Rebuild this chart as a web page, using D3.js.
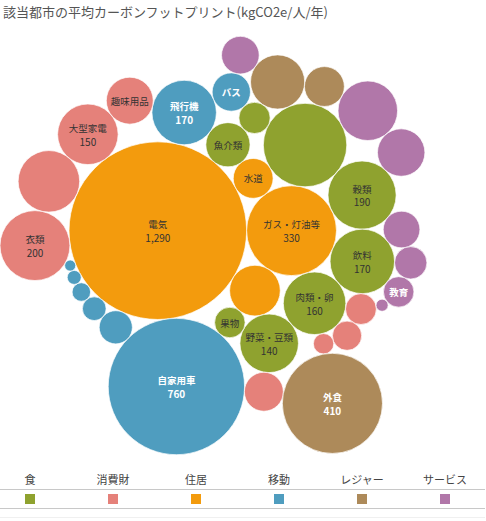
<!DOCTYPE html>
<html>
<head>
<meta charset="utf-8">
<script src="https://cdn.jsdelivr.net/npm/d3@7"></script>
<style>
  body { margin: 0; background: #fff; }
  svg { display: block; font-family: "Noto Sans CJK JP", "Noto Sans", sans-serif; }
</style>
</head>
<body>
<div id="chart"></div>
<script>
/* global d3 */

// legend order of the categories, bubble colour and label colour
var legendCategories = ["食", "消費財", "住居", "移動", "レジャー", "サービス"];
var categoryColors = ["#8fa22f", "#e5817a", "#f39b0d", "#4f9dbf", "#ad8a5a", "#b177a9"];
var labelColors = ["#333", "#333", "#333", "#fff", "#fff", "#fff"];

// items (kgCO2e / person / year); "" = bubble shown without a label
var itemNames = [
    "電気", "ガス・灯油等", "", "水道",
    "", "穀類", "飲料", "肉類・卵", "野菜・豆類", "魚介類", "", "果物",
    "自家用車", "飛行機", "バス", "", "", "", "", "",
    "衣類", "", "大型家電", "趣味用品", "", "", "", "",
    "外食", "", "",
    "", "", "", "", "", "教育", ""
];
var itemCategories = [
    "住居", "住居", "住居", "住居",
    "食", "食", "食", "食", "食", "食", "食", "食",
    "移動", "移動", "移動", "移動", "移動", "移動", "移動", "移動",
    "消費財", "消費財", "消費財", "消費財", "消費財", "消費財", "消費財", "消費財",
    "レジャー", "レジャー", "レジャー",
    "サービス", "サービス", "サービス", "サービス", "サービス", "サービス", "サービス"
];
var itemValues = [
    1290, 330, 105, 65,
    285, 190, 170, 160, 140, 80, 40, 38,
    760, 170, 60, 45, 23, 14, 8, 5,
    200, 155, 150, 90, 62, 39, 35, 17,
    410, 120, 65,
    145, 92, 58, 55, 43, 38, 6
];

var width = 486;
var height = 521;

var svg = d3.select("#chart")
    .append("svg")
    .attr("width", width)
    .attr("height", height);

svg.append("text")
    .attr("x", 3)
    .attr("y", 17)
    .attr("fill", "#555")
    .style("font-size", "13px")
    .text("該当都市の平均カーボンフットプリント(kgCO2e/人/年)");

var color = d3.scaleOrdinal().domain(legendCategories).range(categoryColors);
var textColor = d3.scaleOrdinal().domain(legendCategories).range(labelColors);

var items = itemNames.map(function (name, i) {
    return {name: name, category: itemCategories[i], value: itemValues[i]};
});

// marks are laid out category by category (largest total first), then by value
var totals = d3.rollup(items, function (v) { return d3.sum(v, function (d) { return d.value; }); },
    function (d) { return d.category; });
items.sort(function (a, b) {
    return d3.descending(totals.get(a.category), totals.get(b.category)) || d3.descending(a.value, b.value);
});

var radius = d3.scaleSqrt().domain([0, d3.max(itemValues)]).range([0, 88.8]);
items.forEach(function (d) { d.r = radius(d.value); });

// front-chain packing: each circle goes next to the chain circle closest to the origin
function place(a, b, c) {
    var dx = b.x - a.x, dy = b.y - a.y, d = Math.sqrt(dx * dx + dy * dy);
    var ra = a.r + c.r, rb = b.r + c.r;
    var x = (ra * ra - rb * rb + d * d) / (2 * d);
    var h = Math.sqrt(Math.max(0, ra * ra - x * x));
    var ux = dx / d, uy = dy / d;
    c.x = a.x + x * ux - h * uy;
    c.y = a.y + x * uy + h * ux;
}

function intersects(a, b) {
    var dr = (a.r + b.r) * 0.999, dx = b.x - a.x, dy = b.y - a.y;
    return dr * dr > dx * dx + dy * dy;
}

function closest(start) {
    var best = start, bd = start.c.x * start.c.x + start.c.y * start.c.y, nd = start.next;
    while (nd !== start) {
        var d2 = nd.c.x * nd.c.x + nd.c.y * nd.c.y;
        if (d2 < bd) { best = nd; bd = d2; }
        nd = nd.next;
    }
    return best;
}

function packChain(circles) {
    var A = circles[0], B = circles[1], C = circles[2];
    A.x = -A.r; A.y = 0;
    B.x = B.r; B.y = 0;
    place(A, B, C);
    var a = {c: A}, b = {c: B}, c = {c: C};
    a.next = c; c.next = b; b.next = a;
    a.prev = b; c.prev = a; b.prev = c;
    var m = closest(a);
    for (var i = 3; i < circles.length; i++) {
        var circ = circles[i], p = m, q = m.next;
        search: for (;;) {
            place(p.c, q.c, circ);
            var j = q.next, k = p.prev, sj = q.c.r, sk = p.c.r;
            do {
                if (sj <= sk) {
                    if (intersects(j.c, circ)) { q = j; p.next = q; q.prev = p; continue search; }
                    sj += j.c.r; j = j.next;
                } else {
                    if (intersects(k.c, circ)) { p = k; p.next = q; q.prev = p; continue search; }
                    sk += k.c.r; k = k.prev;
                }
            } while (j !== k.next);
            break;
        }
        var node = {c: circ, prev: p, next: q};
        p.next = node;
        q.prev = node;
        m = closest(node);
    }
}

packChain(items);

// pane: bubbles left aligned, centred vertically
var pane = {left: 0, top: 29.5, bottom: 461.5};
var x0 = d3.min(items, function (d) { return d.x - d.r; });
var y0 = d3.min(items, function (d) { return d.y - d.r; });
var y1 = d3.max(items, function (d) { return d.y + d.r; });
var shiftX = pane.left - x0;
var shiftY = (pane.top + pane.bottom) / 2 - (y0 + y1) / 2;

var g = svg.append("g")
    .attr("transform", "translate(" + shiftX + "," + shiftY + ")");

var node = g.selectAll(".bubble")
    .data(items)
    .enter().append("g")
    .attr("class", "bubble")
    .attr("transform", function (d) { return "translate(" + d.x + "," + d.y + ")"; });

node.append("circle")
    .attr("r", function (d) { return d.r; })
    .attr("fill", function (d) { return color(d.category); })
    .attr("stroke", "#fff")
    .attr("stroke-width", 0.7);

var fmt = d3.format(",");
var labelled = node.filter(function (d) { return d.name !== ""; });

labelled.append("text")
    .attr("text-anchor", "middle")
    .attr("dominant-baseline", "central")
    .attr("y", function (d) { return d.r >= 28 ? -6.5 : 0; })
    .attr("fill", function (d) { return textColor(d.category); })
    .style("font-size", "9.5px")
    .style("font-weight", function (d) { return textColor(d.category) === "#fff" ? "bold" : "normal"; })
    .text(function (d) { return d.name; });

labelled.filter(function (d) { return d.r >= 28; })
    .append("text")
    .attr("text-anchor", "middle")
    .attr("dominant-baseline", "central")
    .attr("y", 6.8)
    .attr("fill", function (d) { return textColor(d.category); })
    .style("font-size", "10px")
    .style("font-weight", function (d) { return textColor(d.category) === "#fff" ? "bold" : "normal"; })
    .text(function (d) { return fmt(d.value); });

// legend
var lx = d3.scalePoint().domain(legendCategories).range([30, 445]);
var legend = svg.append("g").attr("class", "legend");

legend.selectAll(".legend-title")
    .data(legendCategories)
    .enter().append("text")
    .attr("class", "legend-title")
    .attr("x", function (d) { return lx(d); })
    .attr("y", 479)
    .attr("text-anchor", "middle")
    .attr("dominant-baseline", "central")
    .attr("fill", "#444")
    .style("font-size", "11px")
    .text(function (d) { return d; });

legend.append("line")
    .attr("x1", 0).attr("x2", width - 1)
    .attr("y1", 489.5).attr("y2", 489.5)
    .attr("stroke", "#c8c8c8");

legend.selectAll(".swatch")
    .data(legendCategories)
    .enter().append("rect")
    .attr("class", "swatch")
    .attr("x", function (d) { return lx(d) - 5; })
    .attr("y", 494)
    .attr("width", 10)
    .attr("height", 10)
    .attr("fill", function (d) { return color(d); });

legend.append("line")
    .attr("x1", 0).attr("x2", width - 1)
    .attr("y1", 508.5).attr("y2", 508.5)
    .attr("stroke", "#c8c8c8");

legend.append("line")
    .attr("x1", 0).attr("x2", width - 1)
    .attr("y1", 517.5).attr("y2", 517.5)
    .attr("stroke", "#f0f0f0");
</script>
</body>
</html>
